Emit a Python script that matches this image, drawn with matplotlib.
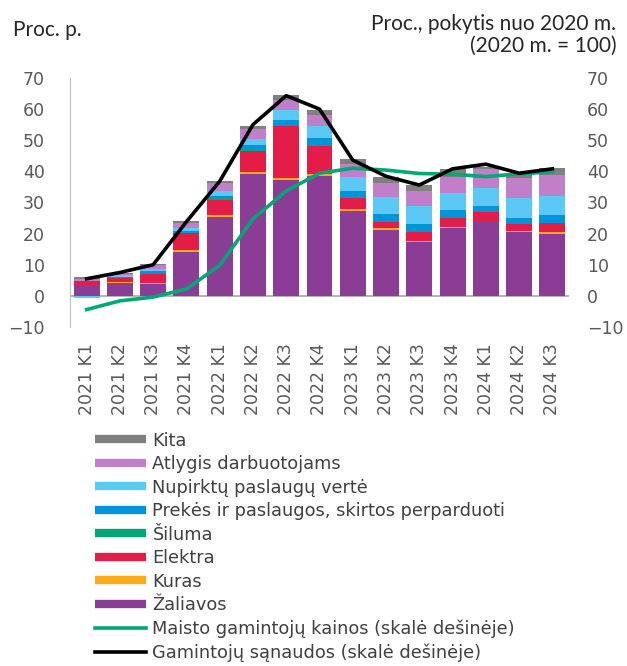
import matplotlib
matplotlib.use("Agg")
import matplotlib.pyplot as plt
from matplotlib.lines import Line2D
import numpy as np

quarters = ["2021 K1", "2021 K2", "2021 K3", "2021 K4",
            "2022 K1", "2022 K2", "2022 K3", "2022 K4",
            "2023 K1", "2023 K2", "2023 K3", "2023 K4",
            "2024 K1", "2024 K2", "2024 K3"]

# Contributions, percentage points (stacked bottom to top)
zaliavos = [3.5, 4.0, 3.8, 14.1, 25.3, 39.2, 37.3, 38.4, 27.4, 21.2, 17.2, 21.7, 23.7, 20.4, 20.0]
kuras    = [0.0, 0.5, 0.4, 0.6, 0.8, 0.5, 0.5, 0.7, 0.5, 0.6, 0.5, 0.5, 0.1, 0.4, 0.4]
elektra  = [1.4, 1.3, 2.8, 5.4, 4.7, 6.7, 16.7, 8.9, 3.4, 2.0, 2.7, 2.7, 3.0, 2.2, 3.0]
siluma   = [0.0, 0.1, 0.2, 0.2, 0.5, 0.5, 0.2, 0.4, 0.2, 0.3, 0.3, 0.2, 0.1, 0.1, 0.1]
prekes   = [-0.2, 0.3, 0.7, 0.5, 0.8, 1.5, 1.9, 2.4, 2.1, 2.2, 2.3, 2.5, 1.9, 2.0, 2.4]
nupirktu = [-0.5, 0.4, 0.6, 1.0, 1.5, 2.1, 3.2, 3.7, 4.6, 5.3, 5.8, 5.6, 5.7, 6.2, 6.1]
atlygis  = [0.6, 0.4, 1.3, 1.6, 2.5, 3.2, 3.0, 3.6, 4.1, 4.8, 4.8, 5.1, 6.2, 6.4, 6.8]
kita     = [0.5, 0.4, 0.4, 0.8, 0.8, 0.7, 1.7, 1.7, 1.6, 1.8, 2.1, 2.6, 0.8, 1.4, 2.2]

# Index lines, percent change from 2020 (right scale)
maisto_kainos = [-4.4, -1.6, -0.4, 2.2, 9.8, 24.7, 33.7, 39.4, 41.0, 40.4, 39.3, 39.1, 38.3, 39.2, 39.8]
sanaudos      = [5.5, 7.5, 10.0, 23.8, 36.8, 55.0, 64.3, 60.0, 43.6, 38.4, 35.6, 40.8, 42.3, 39.4, 40.8]

series = [
    ("Žaliavos", zaliavos, "#8B3D96"),
    ("Kuras", kuras, "#FFAA19"),
    ("Elektra", elektra, "#E31C48"),
    ("Šiluma", siluma, "#00A878"),
    ("Prekės ir paslaugos, skirtos perparduoti", prekes, "#0095D9"),
    ("Nupirktų paslaugų vertė", nupirktu, "#5BC8F5"),
    ("Atlygis darbuotojams", atlygis, "#C07FC8"),
    ("Kita", kita, "#808080"),
]
line_series = [
    ("Maisto gamintojų kainos (skalė dešinėje)", maisto_kainos, "#00A878"),
    ("Gamintojų sąnaudos (skalė dešinėje)", sanaudos, "#000000"),
]

txt = "#404040"
fig = plt.figure(figsize=(6.27, 6.66), dpi=100)
ax = fig.add_axes([0.1116, 0.509, 0.7959, 0.374])
x = np.arange(len(quarters))

pos_base = np.zeros(len(x))
neg_base = np.zeros(len(x))
for name, vals, col in series:
    v = np.array(vals, dtype=float)
    pos = np.where(v > 0, v, 0)
    neg = np.where(v < 0, v, 0)
    ax.bar(x, pos, bottom=pos_base, width=0.78, color=col, linewidth=0, zorder=2)
    ax.bar(x, neg, bottom=neg_base, width=0.78, color=col, linewidth=0, zorder=2)
    pos_base += pos
    neg_base += neg

ax2 = ax.twinx()
for name, vals, col in line_series:
    ax2.plot(x, vals, color=col, lw=2.6, zorder=3, solid_joinstyle="round")

for a in (ax, ax2):
    a.set_ylim(-10, 70)
    a.set_yticks(np.arange(-10, 71, 10))
    a.set_yticklabels(["\u221210"] + [str(v) for v in range(0, 71, 10)])
    for s in a.spines.values():
        s.set_visible(False)
    a.tick_params(axis="y", length=0, labelsize=12.5, labelcolor="#595959")
ax.set_xlim(-0.5, len(x) - 0.5)
ax2.set_xlim(-0.5, len(x) - 0.5)
ax.tick_params(axis="y", pad=18)
ax2.tick_params(axis="y", pad=13)
ax.spines["left"].set_visible(True)
ax.spines["left"].set_color("#BFBFBF")
ax.axhline(0, color="#A6A6A6", lw=1.2, zorder=1)

ax.set_xticks(x)
ax.set_xticklabels(quarters, rotation=90, fontsize=12.5, color="#595959")
ax.tick_params(axis="x", length=0, pad=11.5)

fig.text(0.02, 0.946, "Proc. p.", fontsize=15, color="#262626",
         family="Lato", va="baseline", ha="left")
fig.text(0.983, 0.955, "Proc., pokytis nuo 2020 m.", fontsize=15,
         color="#262626", family="Lato", va="baseline", ha="right")
fig.text(0.983, 0.922, "(2020 m. = 100)", fontsize=15,
         color="#262626", family="Lato", va="baseline", ha="right")

handles = []
labels = []
for name, vals, col in reversed(series):
    handles.append(Line2D([], [], color=col, lw=6, solid_capstyle="butt"))
    labels.append(name)
for name, vals, col in line_series:
    handles.append(Line2D([], [], color=col, lw=2.6))
    labels.append(name)

fig.legend(handles, labels, loc="upper left", bbox_to_anchor=(0.151, 0.352),
           frameon=False, fontsize=12.8, labelcolor=txt, handlelength=2.9,
           handletextpad=0.35, labelspacing=0.31, borderaxespad=0, borderpad=0)

fig.savefig("out.png", dpi=100)
